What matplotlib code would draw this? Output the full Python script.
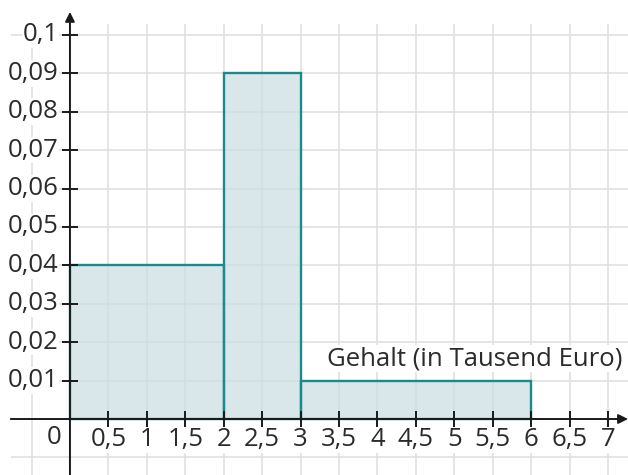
import numpy as np
import matplotlib.pyplot as plt

# histogram data
bin_left = [0, 2, 3]
bin_width = [2, 1, 3]
density = [0.04, 0.09, 0.01]

x_ticks = [0.5, 1, 1.5, 2, 2.5, 3, 3.5, 4, 4.5, 5, 5.5, 6, 6.5, 7]
y_ticks = [0.01, 0.02, 0.03, 0.04, 0.05, 0.06, 0.07, 0.08, 0.09, 0.1]
x_label = "Gehalt (in Tausend Euro)"

plt.rcParams['font.family'] = ['Open Sans', 'DejaVu Sans']

fig = plt.figure(figsize=(6.28, 4.75), dpi=100)
ax = fig.add_axes([0, 0, 1, 1])
ax.set_xlim(-0.91, 7.26)
ax.set_ylim(-0.01458, 0.1091)
ax.axis('off')

grid_col = '#e0e0e0'
# grid
ax.vlines(np.arange(-0.5, 7.01, 0.5), -0.0146, 0.1029, color=grid_col, lw=1.2, zorder=1)
ax.hlines(np.arange(-0.01, 0.1001, 0.01), -0.77, 7.26, color=grid_col, lw=1.2, zorder=1)

# bars
ax.bar(bin_left, density, width=bin_width, align='edge',
       facecolor=(0.79, 0.87, 0.886, 0.7), edgecolor='#1b8a8c', lw=1.7, zorder=2)

# axes with arrows
ax.annotate('', xy=(7.26, 0), xytext=(-0.77, 0),
            arrowprops=dict(arrowstyle='-|>', color='#1a1a1a', lw=1.4,
                            mutation_scale=14, shrinkA=0, shrinkB=0), zorder=4)
ax.annotate('', xy=(0, 0.1060), xytext=(0, -0.0146),
            arrowprops=dict(arrowstyle='-|>', color='#1a1a1a', lw=1.4,
                            mutation_scale=14, shrinkA=0, shrinkB=0), zorder=4)

# ticks
ax.plot(x_ticks, [0] * len(x_ticks), ls='none', marker='|', ms=11, mew=1.4,
        color='#1a1a1a', zorder=4)
ax.plot([0] * len(y_ticks), y_ticks, ls='none', marker='_', ms=11, mew=1.4,
        color='#1a1a1a', zorder=4)

fs = 18.5
tc = '#2b2b2b'
box = dict(facecolor='white', edgecolor='none', pad=0.5)
for x in x_ticks:
    ax.text(x, -0.0053, f"{x:g}".replace('.', ','), ha='center', va='center',
            fontsize=fs, color=tc, bbox=box, zorder=3)
for y in y_ticks:
    ax.text(-0.15, y, f"{y:g}".replace('.', ','), ha='right', va='center',
            fontsize=fs, color=tc, bbox=box, zorder=3)
ax.text(-0.2, -0.0048, "0", ha='center', va='center', fontsize=fs,
        color=tc, bbox=box, zorder=3)

ax.text(7.19, 0.0157, x_label, ha='right', va='center', fontsize=fs,
        color=tc, bbox=box, zorder=3)

fig.savefig('out.png', dpi=100)
